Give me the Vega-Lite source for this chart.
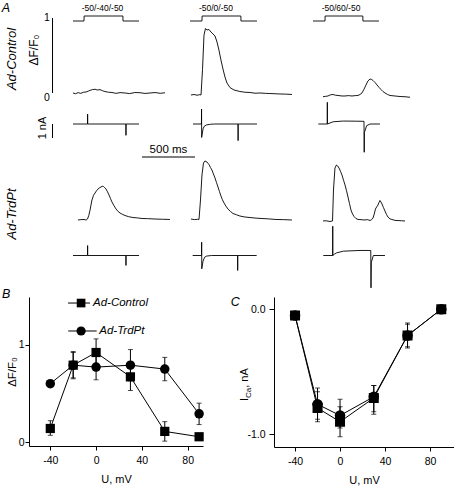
{
"$schema": "https://vega.github.io/schema/vega-lite/v6.json",
"autosize": {"type": "none"},
"padding": {"left": 29, "top": 18, "right": 425, "bottom": 470},
"background": "white",
"config": {
  "font": "Liberation Sans",
  "view": {"stroke": null},
  "axis": {"domainColor": "black", "tickColor": "black", "labelColor": "black", "titleColor": "black", "grid": false, "labelFontSize": 10.5, "titleFontSize": 11, "titleFontWeight": "normal", "domainWidth": 1, "tickWidth": 1},
  "text": {"color": "black"}
},
"datasets": {
  "tr": [
    {"c":"Control","p":1,"s":"ca","t":-104,"v":0.0},{"c":"Control","p":1,"s":"ca","t":-80,"v":-0.01},{"c":"Control","p":1,"s":"ca","t":-55,"v":0.005},{"c":"Control","p":1,"s":"ca","t":-30,"v":-0.005},{"c":"Control","p":1,"s":"ca","t":-5,"v":0.01},{"c":"Control","p":1,"s":"ca","t":19,"v":0.013},{"c":"Control","p":1,"s":"ca","t":40,"v":0.025},{"c":"Control","p":1,"s":"ca","t":57,"v":0.035},{"c":"Control","p":1,"s":"ca","t":80,"v":0.045},{"c":"Control","p":1,"s":"ca","t":104,"v":0.05},{"c":"Control","p":1,"s":"ca","t":125,"v":0.04},{"c":"Control","p":1,"s":"ca","t":151,"v":0.045},{"c":"Control","p":1,"s":"ca","t":175,"v":0.03},{"c":"Control","p":1,"s":"ca","t":198,"v":0.02},{"c":"Control","p":1,"s":"ca","t":230,"v":0.01},{"c":"Control","p":1,"s":"ca","t":264,"v":0.007},{"c":"Control","p":1,"s":"ca","t":300,"v":-0.005},{"c":"Control","p":1,"s":"ca","t":340,"v":0.005},{"c":"Control","p":1,"s":"ca","t":387,"v":0.0},{"c":"Control","p":1,"s":"ca","t":430,"v":-0.008},{"c":"Control","p":1,"s":"ca","t":480,"v":0.006},{"c":"Control","p":1,"s":"ca","t":528,"v":0.004},{"c":"Control","p":1,"s":"ca","t":575,"v":-0.006},{"c":"Control","p":1,"s":"ca","t":623,"v":0.0},{"c":"Control","p":1,"s":"ca","t":670,"v":0.006},{"c":"Control","p":1,"s":"ca","t":720,"v":-0.004},{"c":"Control","p":1,"s":"ca","t":764,"v":0.003},

    {"c":"Control","p":2,"s":"ca","t":-104,"v":-0.027},{"c":"Control","p":2,"s":"ca","t":-75,"v":-0.02},{"c":"Control","p":2,"s":"ca","t":-47,"v":-0.03},{"c":"Control","p":2,"s":"ca","t":-20,"v":-0.022},{"c":"Control","p":2,"s":"ca","t":-9,"v":-0.027},{"c":"Control","p":2,"s":"ca","t":5,"v":0.31},{"c":"Control","p":2,"s":"ca","t":19,"v":0.77},{"c":"Control","p":2,"s":"ca","t":33,"v":0.86},{"c":"Control","p":2,"s":"ca","t":47,"v":0.84},{"c":"Control","p":2,"s":"ca","t":66,"v":0.847},{"c":"Control","p":2,"s":"ca","t":85,"v":0.813},{"c":"Control","p":2,"s":"ca","t":104,"v":0.787},{"c":"Control","p":2,"s":"ca","t":123,"v":0.76},{"c":"Control","p":2,"s":"ca","t":142,"v":0.68},{"c":"Control","p":2,"s":"ca","t":160,"v":0.573},{"c":"Control","p":2,"s":"ca","t":179,"v":0.44},{"c":"Control","p":2,"s":"ca","t":198,"v":0.32},{"c":"Control","p":2,"s":"ca","t":217,"v":0.213},{"c":"Control","p":2,"s":"ca","t":236,"v":0.133},{"c":"Control","p":2,"s":"ca","t":264,"v":0.073},{"c":"Control","p":2,"s":"ca","t":302,"v":0.04},{"c":"Control","p":2,"s":"ca","t":358,"v":0.02},{"c":"Control","p":2,"s":"ca","t":405,"v":0.01},{"c":"Control","p":2,"s":"ca","t":453,"v":0.007},{"c":"Control","p":2,"s":"ca","t":500,"v":-0.003},{"c":"Control","p":2,"s":"ca","t":547,"v":0.0},{"c":"Control","p":2,"s":"ca","t":600,"v":-0.005},{"c":"Control","p":2,"s":"ca","t":641,"v":-0.007},{"c":"Control","p":2,"s":"ca","t":690,"v":-0.01},{"c":"Control","p":2,"s":"ca","t":736,"v":-0.013},{"c":"Control","p":2,"s":"ca","t":790,"v":-0.015},{"c":"Control","p":2,"s":"ca","t":849,"v":-0.02},

    {"c":"Control","p":3,"s":"ca","t":-19,"v":-0.05},{"c":"Control","p":3,"s":"ca","t":5,"v":-0.045},{"c":"Control","p":3,"s":"ca","t":28,"v":-0.04},{"c":"Control","p":3,"s":"ca","t":50,"v":-0.025},{"c":"Control","p":3,"s":"ca","t":75,"v":-0.02},{"c":"Control","p":3,"s":"ca","t":100,"v":-0.03},{"c":"Control","p":3,"s":"ca","t":123,"v":-0.033},{"c":"Control","p":3,"s":"ca","t":160,"v":-0.04},{"c":"Control","p":3,"s":"ca","t":189,"v":-0.04},{"c":"Control","p":3,"s":"ca","t":220,"v":-0.035},{"c":"Control","p":3,"s":"ca","t":255,"v":-0.04},{"c":"Control","p":3,"s":"ca","t":285,"v":-0.035},{"c":"Control","p":3,"s":"ca","t":311,"v":-0.033},{"c":"Control","p":3,"s":"ca","t":330,"v":-0.02},{"c":"Control","p":3,"s":"ca","t":349,"v":0.0},{"c":"Control","p":3,"s":"ca","t":368,"v":0.05},{"c":"Control","p":3,"s":"ca","t":387,"v":0.107},{"c":"Control","p":3,"s":"ca","t":405,"v":0.16},{"c":"Control","p":3,"s":"ca","t":425,"v":0.187},{"c":"Control","p":3,"s":"ca","t":440,"v":0.18},{"c":"Control","p":3,"s":"ca","t":453,"v":0.167},{"c":"Control","p":3,"s":"ca","t":472,"v":0.14},{"c":"Control","p":3,"s":"ca","t":491,"v":0.107},{"c":"Control","p":3,"s":"ca","t":510,"v":0.075},{"c":"Control","p":3,"s":"ca","t":528,"v":0.047},{"c":"Control","p":3,"s":"ca","t":547,"v":0.02},{"c":"Control","p":3,"s":"ca","t":566,"v":0.0},{"c":"Control","p":3,"s":"ca","t":590,"v":-0.02},{"c":"Control","p":3,"s":"ca","t":613,"v":-0.033},{"c":"Control","p":3,"s":"ca","t":660,"v":-0.04},{"c":"Control","p":3,"s":"ca","t":708,"v":-0.047},{"c":"Control","p":3,"s":"ca","t":755,"v":-0.05},{"c":"Control","p":3,"s":"ca","t":802,"v":-0.057},

    {"c":"TrdPt","p":1,"s":"ca","t":-57,"v":0.0},{"c":"TrdPt","p":1,"s":"ca","t":-30,"v":0.005},{"c":"TrdPt","p":1,"s":"ca","t":0,"v":0.007},{"c":"TrdPt","p":1,"s":"ca","t":20,"v":0.0},{"c":"TrdPt","p":1,"s":"ca","t":33,"v":0.013},{"c":"TrdPt","p":1,"s":"ca","t":45,"v":0.06},{"c":"TrdPt","p":1,"s":"ca","t":57,"v":0.133},{"c":"TrdPt","p":1,"s":"ca","t":75,"v":0.267},{"c":"TrdPt","p":1,"s":"ca","t":90,"v":0.33},{"c":"TrdPt","p":1,"s":"ca","t":104,"v":0.36},{"c":"TrdPt","p":1,"s":"ca","t":118,"v":0.39},{"c":"TrdPt","p":1,"s":"ca","t":132,"v":0.413},{"c":"TrdPt","p":1,"s":"ca","t":146,"v":0.43},{"c":"TrdPt","p":1,"s":"ca","t":160,"v":0.44},{"c":"TrdPt","p":1,"s":"ca","t":172,"v":0.45},{"c":"TrdPt","p":1,"s":"ca","t":184,"v":0.447},{"c":"TrdPt","p":1,"s":"ca","t":196,"v":0.43},{"c":"TrdPt","p":1,"s":"ca","t":208,"v":0.413},{"c":"TrdPt","p":1,"s":"ca","t":222,"v":0.375},{"c":"TrdPt","p":1,"s":"ca","t":236,"v":0.333},{"c":"TrdPt","p":1,"s":"ca","t":250,"v":0.285},{"c":"TrdPt","p":1,"s":"ca","t":264,"v":0.24},{"c":"TrdPt","p":1,"s":"ca","t":283,"v":0.19},{"c":"TrdPt","p":1,"s":"ca","t":302,"v":0.147},{"c":"TrdPt","p":1,"s":"ca","t":321,"v":0.115},{"c":"TrdPt","p":1,"s":"ca","t":340,"v":0.093},{"c":"TrdPt","p":1,"s":"ca","t":363,"v":0.075},{"c":"TrdPt","p":1,"s":"ca","t":387,"v":0.06},{"c":"TrdPt","p":1,"s":"ca","t":420,"v":0.045},{"c":"TrdPt","p":1,"s":"ca","t":462,"v":0.033},{"c":"TrdPt","p":1,"s":"ca","t":505,"v":0.028},{"c":"TrdPt","p":1,"s":"ca","t":547,"v":0.02},{"c":"TrdPt","p":1,"s":"ca","t":600,"v":0.018},{"c":"TrdPt","p":1,"s":"ca","t":670,"v":0.013},{"c":"TrdPt","p":1,"s":"ca","t":740,"v":0.01},{"c":"TrdPt","p":1,"s":"ca","t":811,"v":0.007},

    {"c":"TrdPt","p":2,"s":"ca","t":-104,"v":0.013},{"c":"TrdPt","p":2,"s":"ca","t":-70,"v":0.005},{"c":"TrdPt","p":2,"s":"ca","t":-40,"v":0.01},{"c":"TrdPt","p":2,"s":"ca","t":-28,"v":0.007},{"c":"TrdPt","p":2,"s":"ca","t":-14,"v":0.267},{"c":"TrdPt","p":2,"s":"ca","t":0,"v":0.6},{"c":"TrdPt","p":2,"s":"ca","t":14,"v":0.76},{"c":"TrdPt","p":2,"s":"ca","t":28,"v":0.787},{"c":"TrdPt","p":2,"s":"ca","t":47,"v":0.773},{"c":"TrdPt","p":2,"s":"ca","t":66,"v":0.74},{"c":"TrdPt","p":2,"s":"ca","t":80,"v":0.7},{"c":"TrdPt","p":2,"s":"ca","t":94,"v":0.667},{"c":"TrdPt","p":2,"s":"ca","t":108,"v":0.615},{"c":"TrdPt","p":2,"s":"ca","t":123,"v":0.56},{"c":"TrdPt","p":2,"s":"ca","t":137,"v":0.5},{"c":"TrdPt","p":2,"s":"ca","t":151,"v":0.44},{"c":"TrdPt","p":2,"s":"ca","t":165,"v":0.38},{"c":"TrdPt","p":2,"s":"ca","t":179,"v":0.32},{"c":"TrdPt","p":2,"s":"ca","t":193,"v":0.27},{"c":"TrdPt","p":2,"s":"ca","t":208,"v":0.227},{"c":"TrdPt","p":2,"s":"ca","t":226,"v":0.185},{"c":"TrdPt","p":2,"s":"ca","t":245,"v":0.147},{"c":"TrdPt","p":2,"s":"ca","t":268,"v":0.115},{"c":"TrdPt","p":2,"s":"ca","t":292,"v":0.087},{"c":"TrdPt","p":2,"s":"ca","t":325,"v":0.07},{"c":"TrdPt","p":2,"s":"ca","t":358,"v":0.053},{"c":"TrdPt","p":2,"s":"ca","t":405,"v":0.04},{"c":"TrdPt","p":2,"s":"ca","t":453,"v":0.033},{"c":"TrdPt","p":2,"s":"ca","t":510,"v":0.025},{"c":"TrdPt","p":2,"s":"ca","t":566,"v":0.02},{"c":"TrdPt","p":2,"s":"ca","t":630,"v":0.015},{"c":"TrdPt","p":2,"s":"ca","t":698,"v":0.007},{"c":"TrdPt","p":2,"s":"ca","t":770,"v":0.005},{"c":"TrdPt","p":2,"s":"ca","t":849,"v":0.0},

    {"c":"TrdPt","p":3,"s":"ca","t":-19,"v":-0.013},{"c":"TrdPt","p":3,"s":"ca","t":10,"v":-0.01},{"c":"TrdPt","p":3,"s":"ca","t":47,"v":-0.02},{"c":"TrdPt","p":3,"s":"ca","t":71,"v":-0.013},{"c":"TrdPt","p":3,"s":"ca","t":80,"v":0.4},{"c":"TrdPt","p":3,"s":"ca","t":94,"v":0.693},{"c":"TrdPt","p":3,"s":"ca","t":108,"v":0.733},{"c":"TrdPt","p":3,"s":"ca","t":120,"v":0.72},{"c":"TrdPt","p":3,"s":"ca","t":132,"v":0.693},{"c":"TrdPt","p":3,"s":"ca","t":146,"v":0.65},{"c":"TrdPt","p":3,"s":"ca","t":160,"v":0.6},{"c":"TrdPt","p":3,"s":"ca","t":175,"v":0.53},{"c":"TrdPt","p":3,"s":"ca","t":189,"v":0.467},{"c":"TrdPt","p":3,"s":"ca","t":203,"v":0.39},{"c":"TrdPt","p":3,"s":"ca","t":217,"v":0.307},{"c":"TrdPt","p":3,"s":"ca","t":231,"v":0.22},{"c":"TrdPt","p":3,"s":"ca","t":245,"v":0.133},{"c":"TrdPt","p":3,"s":"ca","t":260,"v":0.08},{"c":"TrdPt","p":3,"s":"ca","t":274,"v":0.047},{"c":"TrdPt","p":3,"s":"ca","t":292,"v":0.02},{"c":"TrdPt","p":3,"s":"ca","t":311,"v":0.007},{"c":"TrdPt","p":3,"s":"ca","t":340,"v":0.005},{"c":"TrdPt","p":3,"s":"ca","t":368,"v":0.0},{"c":"TrdPt","p":3,"s":"ca","t":400,"v":0.005},{"c":"TrdPt","p":3,"s":"ca","t":425,"v":-0.007},{"c":"TrdPt","p":3,"s":"ca","t":440,"v":0.005},{"c":"TrdPt","p":3,"s":"ca","t":453,"v":0.027},{"c":"TrdPt","p":3,"s":"ca","t":465,"v":0.08},{"c":"TrdPt","p":3,"s":"ca","t":476,"v":0.147},{"c":"TrdPt","p":3,"s":"ca","t":488,"v":0.175},{"c":"TrdPt","p":3,"s":"ca","t":500,"v":0.2},{"c":"TrdPt","p":3,"s":"ca","t":510,"v":0.235},{"c":"TrdPt","p":3,"s":"ca","t":519,"v":0.26},{"c":"TrdPt","p":3,"s":"ca","t":528,"v":0.24},{"c":"TrdPt","p":3,"s":"ca","t":538,"v":0.213},{"c":"TrdPt","p":3,"s":"ca","t":552,"v":0.165},{"c":"TrdPt","p":3,"s":"ca","t":566,"v":0.12},{"c":"TrdPt","p":3,"s":"ca","t":580,"v":0.075},{"c":"TrdPt","p":3,"s":"ca","t":594,"v":0.04},{"c":"TrdPt","p":3,"s":"ca","t":613,"v":0.015},{"c":"TrdPt","p":3,"s":"ca","t":632,"v":0.007},{"c":"TrdPt","p":3,"s":"ca","t":660,"v":-0.005},{"c":"TrdPt","p":3,"s":"ca","t":689,"v":-0.007},{"c":"TrdPt","p":3,"s":"ca","t":720,"v":-0.01},{"c":"TrdPt","p":3,"s":"ca","t":755,"v":-0.013},

    {"c":"Control","p":1,"s":"cur","t":-104,"v":0},{"c":"Control","p":1,"s":"cur","t":33,"v":0},{"c":"Control","p":1,"s":"cur","t":34,"v":0.71},{"c":"Control","p":1,"s":"cur","t":35,"v":0},{"c":"Control","p":1,"s":"cur","t":395,"v":0},{"c":"Control","p":1,"s":"cur","t":396,"v":-0.81},{"c":"Control","p":1,"s":"cur","t":397,"v":0},{"c":"Control","p":1,"s":"cur","t":519,"v":0},
    {"c":"Control","p":2,"s":"cur","t":-85,"v":0},{"c":"Control","p":2,"s":"cur","t":-5,"v":0},{"c":"Control","p":2,"s":"cur","t":-4,"v":1.07},{"c":"Control","p":2,"s":"cur","t":-3,"v":-0.96},{"c":"Control","p":2,"s":"cur","t":10,"v":-0.35},{"c":"Control","p":2,"s":"cur","t":20,"v":-0.18},{"c":"Control","p":2,"s":"cur","t":40,"v":-0.07},{"c":"Control","p":2,"s":"cur","t":80,"v":-0.02},{"c":"Control","p":2,"s":"cur","t":120,"v":0},{"c":"Control","p":2,"s":"cur","t":340,"v":0},{"c":"Control","p":2,"s":"cur","t":341,"v":-1.19},{"c":"Control","p":2,"s":"cur","t":342,"v":0},{"c":"Control","p":2,"s":"cur","t":519,"v":0},
    {"c":"Control","p":3,"s":"cur","t":-63,"v":0},{"c":"Control","p":3,"s":"cur","t":21,"v":0},{"c":"Control","p":3,"s":"cur","t":22,"v":1.55},{"c":"Control","p":3,"s":"cur","t":23,"v":0},{"c":"Control","p":3,"s":"cur","t":47,"v":0.07},{"c":"Control","p":3,"s":"cur","t":78,"v":0.16},{"c":"Control","p":3,"s":"cur","t":173,"v":0.21},{"c":"Control","p":3,"s":"cur","t":300,"v":0.2},{"c":"Control","p":3,"s":"cur","t":368,"v":0.19},{"c":"Control","p":3,"s":"cur","t":370,"v":-2.02},{"c":"Control","p":3,"s":"cur","t":372,"v":-0.6},{"c":"Control","p":3,"s":"cur","t":393,"v":-0.12},{"c":"Control","p":3,"s":"cur","t":425,"v":0},{"c":"Control","p":3,"s":"cur","t":519,"v":0},
    {"c":"TrdPt","p":1,"s":"cur","t":-104,"v":0},{"c":"TrdPt","p":1,"s":"cur","t":33,"v":0},{"c":"TrdPt","p":1,"s":"cur","t":34,"v":0.71},{"c":"TrdPt","p":1,"s":"cur","t":35,"v":0},{"c":"TrdPt","p":1,"s":"cur","t":395,"v":0},{"c":"TrdPt","p":1,"s":"cur","t":396,"v":-0.71},{"c":"TrdPt","p":1,"s":"cur","t":397,"v":0},{"c":"TrdPt","p":1,"s":"cur","t":519,"v":0},
    {"c":"TrdPt","p":2,"s":"cur","t":-88,"v":0},{"c":"TrdPt","p":2,"s":"cur","t":-4,"v":0},{"c":"TrdPt","p":2,"s":"cur","t":-3,"v":0.95},{"c":"TrdPt","p":2,"s":"cur","t":-2,"v":-0.95},{"c":"TrdPt","p":2,"s":"cur","t":10,"v":-0.4},{"c":"TrdPt","p":2,"s":"cur","t":25,"v":-0.12},{"c":"TrdPt","p":2,"s":"cur","t":45,"v":-0.04},{"c":"TrdPt","p":2,"s":"cur","t":90,"v":0},{"c":"TrdPt","p":2,"s":"cur","t":336,"v":0},{"c":"TrdPt","p":2,"s":"cur","t":337,"v":-1.07},{"c":"TrdPt","p":2,"s":"cur","t":338,"v":0},{"c":"TrdPt","p":2,"s":"cur","t":516,"v":0},
    {"c":"TrdPt","p":3,"s":"cur","t":-16,"v":0},{"c":"TrdPt","p":3,"s":"cur","t":72,"v":0},{"c":"TrdPt","p":3,"s":"cur","t":73,"v":2.09},{"c":"TrdPt","p":3,"s":"cur","t":74,"v":0},{"c":"TrdPt","p":3,"s":"cur","t":90,"v":0.1},{"c":"TrdPt","p":3,"s":"cur","t":110,"v":0.19},{"c":"TrdPt","p":3,"s":"cur","t":173,"v":0.31},{"c":"TrdPt","p":3,"s":"cur","t":330,"v":0.36},{"c":"TrdPt","p":3,"s":"cur","t":432,"v":0.36},{"c":"TrdPt","p":3,"s":"cur","t":434,"v":-2.31},{"c":"TrdPt","p":3,"s":"cur","t":437,"v":-0.5},{"c":"TrdPt","p":3,"s":"cur","t":456,"v":0},{"c":"TrdPt","p":3,"s":"cur","t":566,"v":0}
  ],
  "pr": [
    {"p":1,"t":-104,"level":0},{"p":1,"t":0,"level":0},{"p":1,"t":1,"level":1},{"p":1,"t":367,"level":1},{"p":1,"t":368,"level":0},{"p":1,"t":519,"level":0},
    {"p":2,"t":-113,"level":0},{"p":2,"t":0,"level":0},{"p":2,"t":1,"level":1},{"p":2,"t":367,"level":1},{"p":2,"t":368,"level":0},{"p":2,"t":519,"level":0},
    {"p":3,"t":-113,"level":0},{"p":3,"t":0,"level":0},{"p":3,"t":1,"level":1},{"p":3,"t":357,"level":1},{"p":3,"t":358,"level":0},{"p":3,"t":509,"level":0}
  ],
  "b": [
    {"cond":"Ad-Control","u":-40,"m":0.14,"lo":0.07,"hi":0.22},
    {"cond":"Ad-Control","u":-20,"m":0.79,"lo":0.65,"hi":0.93},
    {"cond":"Ad-Control","u":0,"m":0.92,"lo":0.78,"hi":1.06},
    {"cond":"Ad-Control","u":30,"m":0.67,"lo":0.53,"hi":0.81},
    {"cond":"Ad-Control","u":60,"m":0.11,"lo":0.01,"hi":0.21},
    {"cond":"Ad-Control","u":90,"m":0.055,"lo":0.04,"hi":0.07},
    {"cond":"Ad-TrdPt","u":-40,"m":0.6,"lo":0.58,"hi":0.62},
    {"cond":"Ad-TrdPt","u":-20,"m":0.79,"lo":0.66,"hi":0.92},
    {"cond":"Ad-TrdPt","u":0,"m":0.77,"lo":0.64,"hi":0.9},
    {"cond":"Ad-TrdPt","u":30,"m":0.79,"lo":0.63,"hi":0.95},
    {"cond":"Ad-TrdPt","u":60,"m":0.75,"lo":0.63,"hi":0.87},
    {"cond":"Ad-TrdPt","u":90,"m":0.29,"lo":0.18,"hi":0.4}
  ],
  "c": [
    {"cond":"Ad-Control","u":-40,"m":-0.05,"lo":-0.06,"hi":-0.04},
    {"cond":"Ad-Control","u":-20,"m":-0.79,"lo":-0.9,"hi":-0.66},
    {"cond":"Ad-Control","u":0,"m":-0.9,"lo":-1.02,"hi":-0.78},
    {"cond":"Ad-Control","u":30,"m":-0.71,"lo":-0.84,"hi":-0.61},
    {"cond":"Ad-Control","u":60,"m":-0.21,"lo":-0.31,"hi":-0.11},
    {"cond":"Ad-Control","u":90,"m":0.0,"lo":-0.01,"hi":0.01},
    {"cond":"Ad-TrdPt","u":-40,"m":-0.05,"lo":-0.06,"hi":-0.04},
    {"cond":"Ad-TrdPt","u":-20,"m":-0.76,"lo":-0.88,"hi":-0.63},
    {"cond":"Ad-TrdPt","u":0,"m":-0.85,"lo":-0.95,"hi":-0.72},
    {"cond":"Ad-TrdPt","u":30,"m":-0.7,"lo":-0.82,"hi":-0.61},
    {"cond":"Ad-TrdPt","u":60,"m":-0.21,"lo":-0.3,"hi":-0.12},
    {"cond":"Ad-TrdPt","u":90,"m":0.0,"lo":-0.01,"hi":0.01}
  ]
},
"bounds": "flush",
"spacing": 279,
"vconcat": [
  {
    "hconcat": [
      {
        "width": 161, "height": 248,
        "resolve": {"scale": {"y": "independent"}},
        "layer": [
          {"data": {"name": "pr"}, "transform": [{"filter": "datum.p == 1"}], "mark": {"type": "line", "color": "black", "strokeWidth": 0.9},
           "encoding": {"x": {"field": "t", "type": "quantitative", "scale": {"domain": [-519, 1000], "nice": false, "zero": false}, "axis": null},
                        "y": {"field": "level", "type": "quantitative", "scale": {"domain": [-49, 0.6], "nice": false, "zero": false}, "axis": null}}},
          {"data": {"name": "tr"}, "transform": [{"filter": "datum.c == 'Control' && datum.p == 1 && datum.s == 'ca'"}], "mark": {"type": "line", "color": "black", "strokeWidth": 0.9},
           "encoding": {"x": {"field": "t", "type": "quantitative", "scale": {"domain": [-519, 1000], "nice": false, "zero": false}, "axis": null},
                        "y": {"field": "v", "type": "quantitative", "scale": {"domain": [-2.3067, 1.0], "nice": false, "zero": false}, "axis": null}}},
          {"data": {"name": "tr"}, "transform": [{"filter": "datum.c == 'Control' && datum.p == 1 && datum.s == 'cur'"}], "mark": {"type": "line", "color": "black", "strokeWidth": 0.9},
           "encoding": {"x": {"field": "t", "type": "quantitative", "scale": {"domain": [-519, 1000], "nice": false, "zero": false}, "axis": null},
                        "y": {"field": "v", "type": "quantitative", "scale": {"domain": [-10.1429, 7.5714], "nice": false, "zero": false}, "axis": null}}},
          {"data": {"name": "tr"}, "transform": [{"filter": "datum.c == 'TrdPt' && datum.p == 1 && datum.s == 'ca'"}], "mark": {"type": "line", "color": "black", "strokeWidth": 0.9},
           "encoding": {"x": {"field": "t", "type": "quantitative", "scale": {"domain": [-519, 1000], "nice": false, "zero": false}, "axis": null},
                        "y": {"field": "v", "type": "quantitative", "scale": {"domain": [-0.6133, 2.6933], "nice": false, "zero": false}, "axis": null}}},
          {"data": {"name": "tr"}, "transform": [{"filter": "datum.c == 'TrdPt' && datum.p == 1 && datum.s == 'cur'"}], "mark": {"type": "line", "color": "black", "strokeWidth": 0.9},
           "encoding": {"x": {"field": "t", "type": "quantitative", "scale": {"domain": [-519, 1000], "nice": false, "zero": false}, "axis": null},
                        "y": {"field": "v", "type": "quantitative", "scale": {"domain": [-0.75, 16.9643], "nice": false, "zero": false}, "axis": null}}},
          {"data": {"values": [{"label": "ΔF/F₀ bar"}]}, "mark": {"type": "rule", "color": "black", "strokeWidth": 1},
           "encoding": {"x": {"datum": -297, "type": "quantitative", "scale": {"domain": [-519, 1000], "nice": false, "zero": false}, "axis": null},
                        "y": {"datum": 0, "type": "quantitative", "scale": {"domain": [-2.3067, 1.0], "nice": false, "zero": false}, "axis": null}, "y2": {"datum": 1}}},
          {"data": {"values": [{"label": "1"}]}, "mark": {"type": "text", "fontSize": 10.5, "align": "center", "baseline": "middle"},
           "encoding": {"x": {"datum": -349, "type": "quantitative", "scale": {"domain": [-519, 1000], "nice": false, "zero": false}, "axis": null},
                        "y": {"datum": 1, "type": "quantitative", "scale": {"domain": [-2.3067, 1.0], "nice": false, "zero": false}, "axis": null}, "text": {"field": "label"}}},
          {"data": {"values": [{"label": "0"}]}, "mark": {"type": "text", "fontSize": 10.5, "align": "center", "baseline": "top"},
           "encoding": {"x": {"datum": -349, "type": "quantitative", "scale": {"domain": [-519, 1000], "nice": false, "zero": false}, "axis": null},
                        "y": {"datum": 0, "type": "quantitative", "scale": {"domain": [-2.3067, 1.0], "nice": false, "zero": false}, "axis": null}, "text": {"field": "label"}}},
          {"data": {"values": [{"label": "ΔF/F₀"}]}, "mark": {"type": "text", "fontSize": 12, "align": "center", "baseline": "middle", "angle": 270},
           "encoding": {"x": {"datum": -472, "type": "quantitative", "scale": {"domain": [-519, 1000], "nice": false, "zero": false}, "axis": null},
                        "y": {"datum": 0.573, "type": "quantitative", "scale": {"domain": [-2.3067, 1.0], "nice": false, "zero": false}, "axis": null}, "text": {"field": "label"}}},
          {"data": {"values": [{"label": "Ad-Control"}]}, "mark": {"type": "text", "fontSize": 13, "fontStyle": "italic", "align": "center", "baseline": "middle", "angle": 270},
           "encoding": {"x": {"datum": -679, "type": "quantitative", "scale": {"domain": [-519, 1000], "nice": false, "zero": false}, "axis": null},
                        "y": {"datum": 0.453, "type": "quantitative", "scale": {"domain": [-2.3067, 1.0], "nice": false, "zero": false}, "axis": null}, "text": {"field": "label"}}},
          {"data": {"values": [{"label": "1 nA bar"}]}, "mark": {"type": "rule", "color": "black", "strokeWidth": 1},
           "encoding": {"x": {"datum": -297, "type": "quantitative", "scale": {"domain": [-519, 1000], "nice": false, "zero": false}, "axis": null},
                        "y": {"datum": 0, "type": "quantitative", "scale": {"domain": [-10.1429, 7.5714], "nice": false, "zero": false}, "axis": null}, "y2": {"datum": -1}}},
          {"data": {"values": [{"label": "1 nA"}]}, "mark": {"type": "text", "fontSize": 11, "align": "center", "baseline": "middle", "angle": 270},
           "encoding": {"x": {"datum": -387, "type": "quantitative", "scale": {"domain": [-519, 1000], "nice": false, "zero": false}, "axis": null},
                        "y": {"datum": -0.29, "type": "quantitative", "scale": {"domain": [-10.1429, 7.5714], "nice": false, "zero": false}, "axis": null}, "text": {"field": "label"}}},
          {"data": {"values": [{"label": "500 ms bar"}]}, "mark": {"type": "rule", "color": "black", "strokeWidth": 1.2},
           "encoding": {"x": {"datum": 547, "type": "quantitative", "scale": {"domain": [-519, 1000], "nice": false, "zero": false}, "axis": null}, "x2": {"datum": 1047},
                        "y": {"datum": -2.357, "type": "quantitative", "scale": {"domain": [-10.1429, 7.5714], "nice": false, "zero": false}, "axis": null}}},
          {"data": {"values": [{"label": "500 ms"}]}, "mark": {"type": "text", "fontSize": 11.5, "align": "center", "baseline": "alphabetic", "dy": -4},
           "encoding": {"x": {"datum": 797, "type": "quantitative", "scale": {"domain": [-519, 1000], "nice": false, "zero": false}, "axis": null},
                        "y": {"datum": -2.357, "type": "quantitative", "scale": {"domain": [-10.1429, 7.5714], "nice": false, "zero": false}, "axis": null}, "text": {"field": "label"}}},
          {"data": {"values": [{"label": "Ad-TrdPt"}]}, "mark": {"type": "text", "fontSize": 13, "fontStyle": "italic", "align": "center", "baseline": "middle", "angle": 270},
           "encoding": {"x": {"datum": -679, "type": "quantitative", "scale": {"domain": [-519, 1000], "nice": false, "zero": false}, "axis": null},
                        "y": {"datum": 0.08, "type": "quantitative", "scale": {"domain": [-0.6133, 2.6933], "nice": false, "zero": false}, "axis": null}, "text": {"field": "label"}}},
          {"data": {"values": [{"label": "-50/-40/-50"}]}, "mark": {"type": "text", "fontSize": 8.5, "align": "center", "baseline": "alphabetic"},
           "encoding": {"x": {"datum": 175, "type": "quantitative", "scale": {"domain": [-519, 1000], "nice": false, "zero": false}, "axis": null},
                        "y": {"datum": 2, "type": "quantitative", "scale": {"domain": [-49, 0.6], "nice": false, "zero": false}, "axis": null}, "text": {"field": "label"}}},
          {"data": {"values": [{"label": "A"}]}, "mark": {"type": "text", "fontSize": 12.5, "fontStyle": "italic", "align": "left", "baseline": "alphabetic"},
           "encoding": {"x": {"datum": -776, "type": "quantitative", "scale": {"domain": [-519, 1000], "nice": false, "zero": false}, "axis": null},
                        "y": {"datum": 1.8, "type": "quantitative", "scale": {"domain": [-49, 0.6], "nice": false, "zero": false}, "axis": null}, "text": {"field": "label"}}}
        ]
      },
      {
        "width": 119, "height": 248,
        "resolve": {"scale": {"y": "independent"}},
        "layer": [
          {"data": {"name": "pr"}, "transform": [{"filter": "datum.p == 2"}], "mark": {"type": "line", "color": "black", "strokeWidth": 0.9},
           "encoding": {"x": {"field": "t", "type": "quantitative", "scale": {"domain": [-113, 1010], "nice": false, "zero": false}, "axis": null},
                        "y": {"field": "level", "type": "quantitative", "scale": {"domain": [-49, 0.6], "nice": false, "zero": false}, "axis": null}}},
          {"data": {"name": "tr"}, "transform": [{"filter": "datum.c == 'Control' && datum.p == 2 && datum.s == 'ca'"}], "mark": {"type": "line", "color": "black", "strokeWidth": 0.9},
           "encoding": {"x": {"field": "t", "type": "quantitative", "scale": {"domain": [-113, 1010], "nice": false, "zero": false}, "axis": null},
                        "y": {"field": "v", "type": "quantitative", "scale": {"domain": [-2.3067, 1.0], "nice": false, "zero": false}, "axis": null}}},
          {"data": {"name": "tr"}, "transform": [{"filter": "datum.c == 'Control' && datum.p == 2 && datum.s == 'cur'"}], "mark": {"type": "line", "color": "black", "strokeWidth": 0.9},
           "encoding": {"x": {"field": "t", "type": "quantitative", "scale": {"domain": [-113, 1010], "nice": false, "zero": false}, "axis": null},
                        "y": {"field": "v", "type": "quantitative", "scale": {"domain": [-10.1429, 7.5714], "nice": false, "zero": false}, "axis": null}}},
          {"data": {"name": "tr"}, "transform": [{"filter": "datum.c == 'TrdPt' && datum.p == 2 && datum.s == 'ca'"}], "mark": {"type": "line", "color": "black", "strokeWidth": 0.9},
           "encoding": {"x": {"field": "t", "type": "quantitative", "scale": {"domain": [-113, 1010], "nice": false, "zero": false}, "axis": null},
                        "y": {"field": "v", "type": "quantitative", "scale": {"domain": [-0.6133, 2.6933], "nice": false, "zero": false}, "axis": null}}},
          {"data": {"name": "tr"}, "transform": [{"filter": "datum.c == 'TrdPt' && datum.p == 2 && datum.s == 'cur'"}], "mark": {"type": "line", "color": "black", "strokeWidth": 0.9},
           "encoding": {"x": {"field": "t", "type": "quantitative", "scale": {"domain": [-113, 1010], "nice": false, "zero": false}, "axis": null},
                        "y": {"field": "v", "type": "quantitative", "scale": {"domain": [-0.75, 16.9643], "nice": false, "zero": false}, "axis": null}}},
          {"data": {"values": [{"label": "-50/0/-50"}]}, "mark": {"type": "text", "fontSize": 8.5, "align": "center", "baseline": "alphabetic"},
           "encoding": {"x": {"datum": 132, "type": "quantitative", "scale": {"domain": [-113, 1010], "nice": false, "zero": false}, "axis": null},
                        "y": {"datum": 2, "type": "quantitative", "scale": {"domain": [-49, 0.6], "nice": false, "zero": false}, "axis": null}, "text": {"field": "label"}}}
        ]
      },
      {
        "width": 119, "height": 248,
        "resolve": {"scale": {"y": "independent"}},
        "layer": [
          {"data": {"name": "pr"}, "transform": [{"filter": "datum.p == 3"}], "mark": {"type": "line", "color": "black", "strokeWidth": 0.9},
           "encoding": {"x": {"field": "t", "type": "quantitative", "scale": {"domain": [-151, 972], "nice": false, "zero": false}, "axis": null},
                        "y": {"field": "level", "type": "quantitative", "scale": {"domain": [-49, 0.6], "nice": false, "zero": false}, "axis": null}}},
          {"data": {"name": "tr"}, "transform": [{"filter": "datum.c == 'Control' && datum.p == 3 && datum.s == 'ca'"}], "mark": {"type": "line", "color": "black", "strokeWidth": 0.9},
           "encoding": {"x": {"field": "t", "type": "quantitative", "scale": {"domain": [-151, 972], "nice": false, "zero": false}, "axis": null},
                        "y": {"field": "v", "type": "quantitative", "scale": {"domain": [-2.3067, 1.0], "nice": false, "zero": false}, "axis": null}}},
          {"data": {"name": "tr"}, "transform": [{"filter": "datum.c == 'Control' && datum.p == 3 && datum.s == 'cur'"}], "mark": {"type": "line", "color": "black", "strokeWidth": 0.9},
           "encoding": {"x": {"field": "t", "type": "quantitative", "scale": {"domain": [-151, 972], "nice": false, "zero": false}, "axis": null},
                        "y": {"field": "v", "type": "quantitative", "scale": {"domain": [-10.1429, 7.5714], "nice": false, "zero": false}, "axis": null}}},
          {"data": {"name": "tr"}, "transform": [{"filter": "datum.c == 'TrdPt' && datum.p == 3 && datum.s == 'ca'"}], "mark": {"type": "line", "color": "black", "strokeWidth": 0.9},
           "encoding": {"x": {"field": "t", "type": "quantitative", "scale": {"domain": [-151, 972], "nice": false, "zero": false}, "axis": null},
                        "y": {"field": "v", "type": "quantitative", "scale": {"domain": [-0.6133, 2.6933], "nice": false, "zero": false}, "axis": null}}},
          {"data": {"name": "tr"}, "transform": [{"filter": "datum.c == 'TrdPt' && datum.p == 3 && datum.s == 'cur'"}], "mark": {"type": "line", "color": "black", "strokeWidth": 0.9},
           "encoding": {"x": {"field": "t", "type": "quantitative", "scale": {"domain": [-151, 972], "nice": false, "zero": false}, "axis": null},
                        "y": {"field": "v", "type": "quantitative", "scale": {"domain": [-0.75, 16.9643], "nice": false, "zero": false}, "axis": null}}},
          {"data": {"values": [{"label": "-50/60/-50"}]}, "mark": {"type": "text", "fontSize": 8.5, "align": "center", "baseline": "alphabetic"},
           "encoding": {"x": {"datum": 151, "type": "quantitative", "scale": {"domain": [-151, 972], "nice": false, "zero": false}, "axis": null},
                        "y": {"datum": 2, "type": "quantitative", "scale": {"domain": [-49, 0.6], "nice": false, "zero": false}, "axis": null}, "text": {"field": "label"}}}
        ]
      }
    ],
    "spacing": 0,
    "bounds": "flush"
  },
  {
    "hconcat": [
      {
        "width": 174, "height": 149,
        "layer": [
          {"data": {"name": "b"}, "mark": {"type": "errorbar", "color": "black", "ticks": {"size": 5, "color": "black"}},
           "encoding": {"x": {"field": "u", "type": "quantitative", "scale": {"domain": [-58.6, 93.4], "nice": false, "zero": false}, "axis": {"values": [-40, 0, 40, 80], "title": "U, mV", "tickSize": 4, "labelPadding": 5, "titlePadding": 8, "labelFlush": false, "labelExpr": "replace(datum.label, '−', '-')"}},
                        "y": {"field": "lo", "type": "quantitative", "scale": {"domain": [-0.04, 1.49], "nice": false, "zero": false}, "axis": {"values": [0, 1], "format": "d", "title": "ΔF/F₀", "tickSize": 4, "labelPadding": 1, "titlePadding": 1, "titleFontSize": 11.5}},
                        "y2": {"field": "hi"}, "detail": {"field": "cond"}}},
          {"data": {"name": "b"}, "mark": {"type": "line", "color": "black", "strokeWidth": 1},
           "encoding": {"x": {"field": "u", "type": "quantitative", "scale": {"domain": [-58.6, 93.4], "nice": false, "zero": false}, "axis": {"values": [-40, 0, 40, 80], "title": "U, mV", "tickSize": 4, "labelPadding": 5, "titlePadding": 8, "labelFlush": false, "labelExpr": "replace(datum.label, '−', '-')"}},
                        "y": {"field": "m", "type": "quantitative", "scale": {"domain": [-0.04, 1.49], "nice": false, "zero": false}, "axis": {"values": [0, 1], "format": "d", "title": "ΔF/F₀", "tickSize": 4, "labelPadding": 1, "titlePadding": 1, "titleFontSize": 11.5}},
                        "detail": {"field": "cond"}}},
          {"data": {"name": "b"}, "transform": [{"filter": "datum.cond == 'Ad-Control'"}],
           "mark": {"type": "point", "shape": "square", "filled": true, "color": "black", "size": 85, "opacity": 1},
           "encoding": {"x": {"field": "u", "type": "quantitative", "scale": {"domain": [-58.6, 93.4], "nice": false, "zero": false}, "axis": {"values": [-40, 0, 40, 80], "title": "U, mV", "tickSize": 4, "labelPadding": 5, "titlePadding": 8, "labelFlush": false, "labelExpr": "replace(datum.label, '−', '-')"}},
                        "y": {"field": "m", "type": "quantitative", "scale": {"domain": [-0.04, 1.49], "nice": false, "zero": false}, "axis": {"values": [0, 1], "format": "d", "title": "ΔF/F₀", "tickSize": 4, "labelPadding": 1, "titlePadding": 1, "titleFontSize": 11.5}}}},
          {"data": {"name": "b"}, "transform": [{"filter": "datum.cond == 'Ad-TrdPt'"}],
           "mark": {"type": "point", "shape": "circle", "filled": true, "color": "black", "size": 90, "opacity": 1},
           "encoding": {"x": {"field": "u", "type": "quantitative", "scale": {"domain": [-58.6, 93.4], "nice": false, "zero": false}, "axis": {"values": [-40, 0, 40, 80], "title": "U, mV", "tickSize": 4, "labelPadding": 5, "titlePadding": 8, "labelFlush": false, "labelExpr": "replace(datum.label, '−', '-')"}},
                        "y": {"field": "m", "type": "quantitative", "scale": {"domain": [-0.04, 1.49], "nice": false, "zero": false}, "axis": {"values": [0, 1], "format": "d", "title": "ΔF/F₀", "tickSize": 4, "labelPadding": 1, "titlePadding": 1, "titleFontSize": 11.5}}}},
          {"data": {"values": [{"label": "Ad-Control"}]}, "mark": {"type": "rule", "color": "black", "strokeWidth": 1},
           "encoding": {"x": {"datum": -24.5, "type": "quantitative", "scale": {"domain": [-58.6, 93.4], "nice": false, "zero": false}, "axis": {"values": [-40, 0, 40, 80], "title": "U, mV", "tickSize": 4, "labelPadding": 5, "titlePadding": 8, "labelFlush": false, "labelExpr": "replace(datum.label, '−', '-')"}}, "x2": {"datum": -5.3},
                        "y": {"datum": 1.428, "type": "quantitative", "scale": {"domain": [-0.04, 1.49], "nice": false, "zero": false}, "axis": {"values": [0, 1], "format": "d", "title": "ΔF/F₀", "tickSize": 4, "labelPadding": 1, "titlePadding": 1, "titleFontSize": 11.5}}}},
          {"data": {"values": [{"label": "Ad-Control"}]}, "mark": {"type": "point", "shape": "square", "filled": true, "color": "black", "size": 75, "opacity": 1},
           "encoding": {"x": {"datum": -13.1, "type": "quantitative", "scale": {"domain": [-58.6, 93.4], "nice": false, "zero": false}, "axis": {"values": [-40, 0, 40, 80], "title": "U, mV", "tickSize": 4, "labelPadding": 5, "titlePadding": 8, "labelFlush": false, "labelExpr": "replace(datum.label, '−', '-')"}},
                        "y": {"datum": 1.428, "type": "quantitative", "scale": {"domain": [-0.04, 1.49], "nice": false, "zero": false}, "axis": {"values": [0, 1], "format": "d", "title": "ΔF/F₀", "tickSize": 4, "labelPadding": 1, "titlePadding": 1, "titleFontSize": 11.5}}}},
          {"data": {"values": [{"label": "Ad-Control"}]}, "mark": {"type": "text", "fontSize": 11.5, "fontStyle": "italic", "align": "left", "baseline": "middle"},
           "encoding": {"x": {"datum": -2.7, "type": "quantitative", "scale": {"domain": [-58.6, 93.4], "nice": false, "zero": false}, "axis": {"values": [-40, 0, 40, 80], "title": "U, mV", "tickSize": 4, "labelPadding": 5, "titlePadding": 8, "labelFlush": false, "labelExpr": "replace(datum.label, '−', '-')"}},
                        "y": {"datum": 1.428, "type": "quantitative", "scale": {"domain": [-0.04, 1.49], "nice": false, "zero": false}, "axis": {"values": [0, 1], "format": "d", "title": "ΔF/F₀", "tickSize": 4, "labelPadding": 1, "titlePadding": 1, "titleFontSize": 11.5}}, "text": {"field": "label"}}},
          {"data": {"values": [{"label": "Ad-TrdPt"}]}, "mark": {"type": "rule", "color": "black", "strokeWidth": 1},
           "encoding": {"x": {"datum": -24.3, "type": "quantitative", "scale": {"domain": [-58.6, 93.4], "nice": false, "zero": false}, "axis": {"values": [-40, 0, 40, 80], "title": "U, mV", "tickSize": 4, "labelPadding": 5, "titlePadding": 8, "labelFlush": false, "labelExpr": "replace(datum.label, '−', '-')"}}, "x2": {"datum": 0.5},
                        "y": {"datum": 1.141, "type": "quantitative", "scale": {"domain": [-0.04, 1.49], "nice": false, "zero": false}, "axis": {"values": [0, 1], "format": "d", "title": "ΔF/F₀", "tickSize": 4, "labelPadding": 1, "titlePadding": 1, "titleFontSize": 11.5}}}},
          {"data": {"values": [{"label": "Ad-TrdPt"}]}, "mark": {"type": "point", "shape": "circle", "filled": true, "color": "black", "size": 85, "opacity": 1},
           "encoding": {"x": {"datum": -13.1, "type": "quantitative", "scale": {"domain": [-58.6, 93.4], "nice": false, "zero": false}, "axis": {"values": [-40, 0, 40, 80], "title": "U, mV", "tickSize": 4, "labelPadding": 5, "titlePadding": 8, "labelFlush": false, "labelExpr": "replace(datum.label, '−', '-')"}},
                        "y": {"datum": 1.141, "type": "quantitative", "scale": {"domain": [-0.04, 1.49], "nice": false, "zero": false}, "axis": {"values": [0, 1], "format": "d", "title": "ΔF/F₀", "tickSize": 4, "labelPadding": 1, "titlePadding": 1, "titleFontSize": 11.5}}}},
          {"data": {"values": [{"label": "Ad-TrdPt"}]}, "mark": {"type": "text", "fontSize": 11.5, "fontStyle": "italic", "align": "left", "baseline": "middle"},
           "encoding": {"x": {"datum": 2.8, "type": "quantitative", "scale": {"domain": [-58.6, 93.4], "nice": false, "zero": false}, "axis": {"values": [-40, 0, 40, 80], "title": "U, mV", "tickSize": 4, "labelPadding": 5, "titlePadding": 8, "labelFlush": false, "labelExpr": "replace(datum.label, '−', '-')"}},
                        "y": {"datum": 1.141, "type": "quantitative", "scale": {"domain": [-0.04, 1.49], "nice": false, "zero": false}, "axis": {"values": [0, 1], "format": "d", "title": "ΔF/F₀", "tickSize": 4, "labelPadding": 1, "titlePadding": 1, "titleFontSize": 11.5}}, "text": {"field": "label"}}},
          {"data": {"values": [{"label": "B"}]}, "mark": {"type": "text", "fontSize": 12.5, "fontStyle": "italic", "align": "left", "baseline": "alphabetic"},
           "encoding": {"x": {"datum": -82.2, "type": "quantitative", "scale": {"domain": [-58.6, 93.4], "nice": false, "zero": false}, "axis": {"values": [-40, 0, 40, 80], "title": "U, mV", "tickSize": 4, "labelPadding": 5, "titlePadding": 8, "labelFlush": false, "labelExpr": "replace(datum.label, '−', '-')"}},
                        "y": {"datum": 1.475, "type": "quantitative", "scale": {"domain": [-0.04, 1.49], "nice": false, "zero": false}, "axis": {"values": [0, 1], "format": "d", "title": "ΔF/F₀", "tickSize": 4, "labelPadding": 1, "titlePadding": 1, "titleFontSize": 11.5}}, "text": {"field": "label"}}}
        ]
      },
      {
        "width": 180, "height": 150,
        "layer": [
          {"data": {"name": "c"}, "mark": {"type": "errorbar", "color": "black", "ticks": {"size": 5, "color": "black"}},
           "encoding": {"x": {"field": "u", "type": "quantitative", "scale": {"domain": [-58.7, 101.3], "nice": false, "zero": false}, "axis": {"values": [-40, 0, 40, 80], "title": "U, mV", "tickSize": 4, "labelPadding": 5, "titlePadding": 8, "labelFlush": false, "labelExpr": "replace(datum.label, '−', '-')"}},
                        "y": {"field": "lo", "type": "quantitative", "scale": {"domain": [-1.102, 0.098], "nice": false, "zero": false}, "axis": {"values": [0, -1], "format": ".1f", "labelExpr": "replace(datum.label, '−', '-')", "title": null, "tickSize": 5, "labelPadding": 4}},
                        "y2": {"field": "hi"}, "detail": {"field": "cond"}}},
          {"data": {"name": "c"}, "mark": {"type": "line", "color": "black", "strokeWidth": 1},
           "encoding": {"x": {"field": "u", "type": "quantitative", "scale": {"domain": [-58.7, 101.3], "nice": false, "zero": false}, "axis": {"values": [-40, 0, 40, 80], "title": "U, mV", "tickSize": 4, "labelPadding": 5, "titlePadding": 8, "labelFlush": false, "labelExpr": "replace(datum.label, '−', '-')"}},
                        "y": {"field": "m", "type": "quantitative", "scale": {"domain": [-1.102, 0.098], "nice": false, "zero": false}, "axis": {"values": [0, -1], "format": ".1f", "labelExpr": "replace(datum.label, '−', '-')", "title": null, "tickSize": 5, "labelPadding": 4}},
                        "detail": {"field": "cond"}}},
          {"data": {"name": "c"}, "transform": [{"filter": "datum.cond == 'Ad-Control'"}],
           "mark": {"type": "point", "shape": "square", "filled": true, "color": "black", "size": 100, "opacity": 1},
           "encoding": {"x": {"field": "u", "type": "quantitative", "scale": {"domain": [-58.7, 101.3], "nice": false, "zero": false}, "axis": {"values": [-40, 0, 40, 80], "title": "U, mV", "tickSize": 4, "labelPadding": 5, "titlePadding": 8, "labelFlush": false, "labelExpr": "replace(datum.label, '−', '-')"}},
                        "y": {"field": "m", "type": "quantitative", "scale": {"domain": [-1.102, 0.098], "nice": false, "zero": false}, "axis": {"values": [0, -1], "format": ".1f", "labelExpr": "replace(datum.label, '−', '-')", "title": null, "tickSize": 5, "labelPadding": 4}}}},
          {"data": {"name": "c"}, "transform": [{"filter": "datum.cond == 'Ad-TrdPt'"}],
           "mark": {"type": "point", "shape": "circle", "filled": true, "color": "black", "size": 110, "opacity": 1},
           "encoding": {"x": {"field": "u", "type": "quantitative", "scale": {"domain": [-58.7, 101.3], "nice": false, "zero": false}, "axis": {"values": [-40, 0, 40, 80], "title": "U, mV", "tickSize": 4, "labelPadding": 5, "titlePadding": 8, "labelFlush": false, "labelExpr": "replace(datum.label, '−', '-')"}},
                        "y": {"field": "m", "type": "quantitative", "scale": {"domain": [-1.102, 0.098], "nice": false, "zero": false}, "axis": {"values": [0, -1], "format": ".1f", "labelExpr": "replace(datum.label, '−', '-')", "title": null, "tickSize": 5, "labelPadding": 4}}}},
          {"data": {"values": [{"label": "I"}]}, "mark": {"type": "text", "fontSize": 11, "align": "left", "baseline": "alphabetic", "angle": 270},
           "encoding": {"x": {"datum": -81.8, "type": "quantitative", "scale": {"domain": [-58.7, 101.3], "nice": false, "zero": false}, "axis": {"values": [-40, 0, 40, 80], "title": "U, mV", "tickSize": 4, "labelPadding": 5, "titlePadding": 8, "labelFlush": false, "labelExpr": "replace(datum.label, '−', '-')"}},
                        "y": {"datum": -0.734, "type": "quantitative", "scale": {"domain": [-1.102, 0.098], "nice": false, "zero": false}, "axis": {"values": [0, -1], "format": ".1f", "labelExpr": "replace(datum.label, '−', '-')", "title": null, "tickSize": 5, "labelPadding": 4}}, "text": {"field": "label"}}},
          {"data": {"values": [{"label": "Ca"}]}, "mark": {"type": "text", "fontSize": 8, "align": "left", "baseline": "alphabetic", "angle": 270},
           "encoding": {"x": {"datum": -79.1, "type": "quantitative", "scale": {"domain": [-58.7, 101.3], "nice": false, "zero": false}, "axis": {"values": [-40, 0, 40, 80], "title": "U, mV", "tickSize": 4, "labelPadding": 5, "titlePadding": 8, "labelFlush": false, "labelExpr": "replace(datum.label, '−', '-')"}},
                        "y": {"datum": -0.71, "type": "quantitative", "scale": {"domain": [-1.102, 0.098], "nice": false, "zero": false}, "axis": {"values": [0, -1], "format": ".1f", "labelExpr": "replace(datum.label, '−', '-')", "title": null, "tickSize": 5, "labelPadding": 4}}, "text": {"field": "label"}}},
          {"data": {"values": [{"label": ", nA"}]}, "mark": {"type": "text", "fontSize": 11, "align": "left", "baseline": "alphabetic", "angle": 270},
           "encoding": {"x": {"datum": -81.8, "type": "quantitative", "scale": {"domain": [-58.7, 101.3], "nice": false, "zero": false}, "axis": {"values": [-40, 0, 40, 80], "title": "U, mV", "tickSize": 4, "labelPadding": 5, "titlePadding": 8, "labelFlush": false, "labelExpr": "replace(datum.label, '−', '-')"}},
                        "y": {"datum": -0.628, "type": "quantitative", "scale": {"domain": [-1.102, 0.098], "nice": false, "zero": false}, "axis": {"values": [0, -1], "format": ".1f", "labelExpr": "replace(datum.label, '−', '-')", "title": null, "tickSize": 5, "labelPadding": 4}}, "text": {"field": "label"}}},
          {"data": {"values": [{"label": "C"}]}, "mark": {"type": "text", "fontSize": 12.5, "fontStyle": "italic", "align": "left", "baseline": "alphabetic"},
           "encoding": {"x": {"datum": -97.2, "type": "quantitative", "scale": {"domain": [-58.7, 101.3], "nice": false, "zero": false}, "axis": {"values": [-40, 0, 40, 80], "title": "U, mV", "tickSize": 4, "labelPadding": 5, "titlePadding": 8, "labelFlush": false, "labelExpr": "replace(datum.label, '−', '-')"}},
                        "y": {"datum": 0.026, "type": "quantitative", "scale": {"domain": [-1.102, 0.098], "nice": false, "zero": false}, "axis": {"values": [0, -1], "format": ".1f", "labelExpr": "replace(datum.label, '−', '-')", "title": null, "tickSize": 5, "labelPadding": 4}}, "text": {"field": "label"}}}
        ]
      }
    ],
    "spacing": 71,
    "bounds": "flush"
  }
]
}
